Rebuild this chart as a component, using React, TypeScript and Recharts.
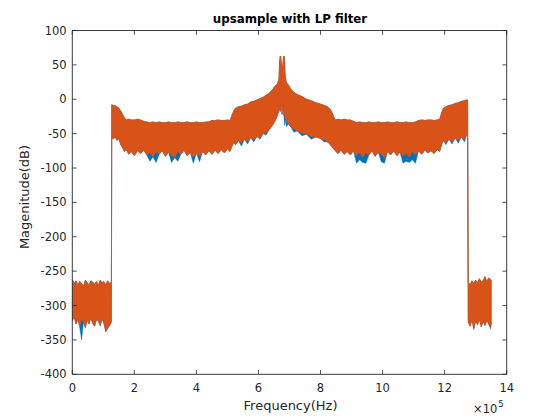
import React from 'react';
import { ComposedChart, Area, XAxis, YAxis } from 'recharts';

// Frequency in units of 1e5 Hz
const FREQ = [
  0, 0.06, 0.12, 0.18, 0.24, 0.3, 0.36, 0.42, 0.48, 0.54, 0.6, 0.66, 0.72, 0.78, 0.84, 0.9, 0.96, 1.02, 1.08, 1.14, 1.2, 1.26,
  1.27, 1.32, 1.38, 1.44, 1.5, 1.56, 1.62, 1.68, 1.74, 1.82, 1.9, 2.0, 2.1, 2.2, 2.3, 2.4, 2.5, 2.6, 2.7, 2.8, 2.9,
  3.0, 3.1, 3.2, 3.3, 3.4, 3.5, 3.6, 3.7, 3.8, 3.9, 4.0, 4.1, 4.2, 4.3, 4.4, 4.5, 4.6, 4.7, 4.8, 4.9, 5.0, 5.08,
  5.14, 5.2, 5.26, 5.35, 5.45, 5.55, 5.65, 5.75, 5.85, 5.95, 6.05, 6.15, 6.25, 6.35, 6.45, 6.55, 6.62, 6.66,
  6.68, 6.7, 6.72, 6.74, 6.76, 6.78, 6.8, 6.82, 6.84, 6.86, 6.9, 6.96, 7.04, 7.14, 7.25, 7.4, 7.55, 7.7, 7.85,
  8.0, 8.12, 8.22, 8.3, 8.36, 8.42, 8.48, 8.56, 8.66, 8.76, 8.86, 8.96, 9.06, 9.16, 9.26, 9.36, 9.46, 9.56,
  9.66, 9.76, 9.86, 9.96, 10.06, 10.16, 10.26, 10.36, 10.46, 10.56, 10.66, 10.76, 10.86, 10.96, 11.06, 11.16,
  11.26, 11.36, 11.46, 11.56, 11.66, 11.76, 11.84, 11.9, 11.96, 12.04, 12.14, 12.24, 12.34, 12.44, 12.54,
  12.64, 12.7, 12.74,
  12.76, 12.82, 12.88, 12.94, 13.0, 13.06, 13.12, 13.18, 13.24, 13.3, 13.36, 13.42, 13.48, 13.51,
];

const UPPER = [
  -262, -268, -264, -270, -265, -268, -272, -263, -267, -270, -264, -266, -269, -265, -271, -263, -267, -265, -270, -264, -268, -266,
  -8, -9, -9, -11, -13, -17, -22, -27, -30, -29, -30, -30, -29, -30, -32, -33, -34, -33, -34, -33, -34,
  -34, -33, -34, -34, -33, -34, -34, -33, -34, -34, -33, -34, -34, -33, -33, -31, -31, -30, -31, -31, -30, -31,
  -24, -17, -13, -11, -10, -8, -7, -4, -3, -1, 1, 3, 6, 9, 14, 20, 23, 30,
  55, 63, 62, 50, 45, 48, 58, 63, 60, 35, 24, 21, 15, 10, 7, 4, 0, -2, -5,
  -7, -9, -11, -14, -18, -25, -30, -29, -30, -29, -30, -30, -32, -34, -33, -34, -34, -33,
  -34, -34, -33, -34, -34, -33, -34, -34, -33, -34, -34, -33, -34, -34, -33, -31,
  -30, -31, -30, -30, -31, -30, -29, -20, -13, -11, -9, -8, -6, -5, -3,
  -2, -1, -1,
  -266, -270, -264, -268, -263, -267, -261, -266, -264, -258, -265, -260, -262, -265,
];

const LOWER_ORANGE = [
  -322, -317, -327, -320, -330, -319, -324, -331, -321, -327, -318, -325, -330, -320, -323, -328, -319, -326, -338, -333, -329, -324,
  -54, -58, -55, -60, -57, -66, -70, -76, -73, -80, -76, -82, -75, -79, -74, -81, -77, -84, -76, -80, -75,
  -83, -77, -81, -85, -76, -80, -74, -82, -77, -84, -78, -83, -76, -81, -75, -80, -74, -79, -73, -78, -72, -76,
  -69, -63, -66, -60, -63, -58, -61, -56, -59, -54, -56, -50, -48, -44, -38, -30, -22, -16,
  -12, -18, -10, -6, -22, -8, -14, -24, -16, -28, -30, -36, -40, -43, -46, -49, -51, -54, -55,
  -57, -59, -62, -65, -69, -72, -75, -79, -74, -80, -76, -81, -75, -82, -77, -84, -78, -81,
  -75, -83, -77, -80, -85, -76, -81, -75, -82, -77, -83, -78, -84, -76, -81, -75,
  -80, -74, -78, -75, -79, -73, -76, -66, -60, -63, -58, -62, -56, -60, -55,
  -58, -52, -55,
  -324, -330, -321, -333, -322, -328, -320, -331, -323, -329, -321, -327, -332, -324,
];

const LOWER_BLUE = [
  -322, -317, -327, -320, -332, -350, -324, -333, -321, -327, -318, -327, -330, -320, -323, -330, -319, -326, -338, -333, -329, -324,
  -54, -58, -55, -60, -57, -66, -70, -76, -73, -80, -76, -82, -75, -79, -74, -81, -90, -84, -92, -80, -75,
  -83, -77, -92, -85, -90, -80, -74, -82, -77, -93, -78, -91, -76, -81, -75, -80, -74, -79, -73, -78, -72, -76,
  -69, -63, -66, -60, -68, -58, -65, -56, -62, -54, -58, -50, -52, -44, -38, -30, -22, -16,
  -12, -18, -10, -6, -22, -8, -14, -24, -38, -28, -40, -36, -40, -48, -46, -53, -51, -58, -55,
  -57, -62, -62, -65, -69, -72, -75, -79, -74, -80, -76, -81, -75, -93, -88, -92, -93, -81,
  -75, -83, -77, -91, -93, -76, -81, -75, -82, -77, -93, -90, -92, -88, -93, -75,
  -80, -74, -78, -75, -79, -73, -76, -66, -60, -66, -58, -65, -56, -64, -55,
  -62, -52, -55,
  -324, -330, -321, -335, -322, -328, -320, -331, -323, -329, -321, -327, -334, -324,
];

const X_TICKS = [0, 2, 4, 6, 8, 10, 12, 14];
const Y_TICKS = [-400, -350, -300, -250, -200, -150, -100, -50, 0, 50, 100];

const rows = FREQ.map((f, i) => ({
  f,
  orange: [LOWER_ORANGE[i], UPPER[i]],
  blue: [LOWER_BLUE[i], UPPER[i]],
}));

const INK = '#262626';
const FONT = '"DejaVu Sans", sans-serif';
const TICK_LEN = 4.3;
const TICK_FS = 11.5;

const BottomTick = (p: any) => (
  <g>
    <line x1={p.x} x2={p.x} y1={p.y} y2={p.y - TICK_LEN} stroke={INK} strokeWidth={0.8} />
    <text x={p.x} y={p.y + 17.7} textAnchor="middle" fontSize={TICK_FS} fontFamily={FONT} fill={INK}>
      {p.payload.value}
    </text>
  </g>
);
const TopTick = (p: any) => (
  <line x1={p.x} x2={p.x} y1={p.y} y2={p.y + TICK_LEN} stroke={INK} strokeWidth={0.8} />
);
const LeftTick = (p: any) => (
  <g>
    <line x1={p.x} x2={p.x + TICK_LEN} y1={p.y} y2={p.y} stroke={INK} strokeWidth={0.8} />
    <text x={p.x - 5.6} y={p.y + 4} textAnchor="end" fontSize={TICK_FS} fontFamily={FONT} fill={INK}>
      {p.payload.value}
    </text>
  </g>
);
const RightTick = (p: any) => (
  <line x1={p.x} x2={p.x - TICK_LEN} y1={p.y} y2={p.y} stroke={INK} strokeWidth={0.8} />
);

export default function App() {
  const axisLine = { stroke: INK, strokeWidth: 0.9 };
  return (
    <div style={{ position: 'absolute', left: 0, top: 0, width: 560, height: 420, background: '#fff' }}>
      <ComposedChart
        width={560}
        height={420}
        data={rows}
        margin={{ top: 29.5, right: 52.3, bottom: 15.7, left: 12.3 }}
      >
        <XAxis
          dataKey="f"
          type="number"
          domain={[0, 14]}
          ticks={X_TICKS}
          interval={0}
          allowDataOverflow
          height={30}
          tickSize={0}
          tickMargin={0}
          axisLine={axisLine}
          tickLine={false}
          tick={<BottomTick />}
        />
        <XAxis
          xAxisId="top"
          dataKey="f"
          orientation="top"
          type="number"
          domain={[0, 14]}
          ticks={X_TICKS}
          interval={0}
          allowDataOverflow
          height={1}
          tickSize={0}
          tickMargin={0}
          axisLine={axisLine}
          tickLine={false}
          tick={<TopTick />}
        />
        <YAxis
          type="number"
          domain={[-400, 100]}
          ticks={Y_TICKS}
          interval={0}
          allowDataOverflow
          width={60}
          tickSize={0}
          tickMargin={0}
          axisLine={axisLine}
          tickLine={false}
          tick={<LeftTick />}
        />
        <YAxis
          yAxisId="right"
          orientation="right"
          type="number"
          domain={[-400, 100]}
          ticks={Y_TICKS}
          interval={0}
          allowDataOverflow
          width={1}
          tickSize={0}
          tickMargin={0}
          axisLine={axisLine}
          tickLine={false}
          tick={<RightTick />}
        />
        <Area
          xAxisId="top"
          yAxisId="right"
          dataKey="orange"
          type="linear"
          stroke="none"
          fill="none"
          isAnimationActive={false}
          dot={false}
          activeDot={false}
        />
        <Area
          dataKey="blue"
          type="linear"
          stroke="#0072BD"
          strokeWidth={0.5}
          fill="#0072BD"
          fillOpacity={1}
          isAnimationActive={false}
          dot={false}
          activeDot={false}
        />
        <Area
          dataKey="orange"
          type="linear"
          stroke="#D95319"
          strokeWidth={0.7}
          fill="#D95319"
          fillOpacity={1}
          isAnimationActive={false}
          dot={false}
          activeDot={false}
        />
      </ComposedChart>
      <svg width={560} height={420} style={{ position: 'absolute', left: 0, top: 0, pointerEvents: 'none' }}>
        <text x={290} y={23} textAnchor="middle" fontSize={11.8} fontWeight="bold" fontFamily={FONT} fill="#000">
          upsample with LP filter
        </text>
        <text x={290.5} y={410} textAnchor="middle" fontSize={13} fontFamily={FONT} fill={INK}>
          Frequency(Hz)
        </text>
        <text
          x={29}
          y={197}
          textAnchor="middle"
          fontSize={13}
          fontFamily={FONT}
          fill={INK}
          transform="rotate(-90, 29, 197)"
        >
          Magenitude(dB)
        </text>
        <text x={473} y={413} fontSize={11.5} fontFamily={FONT} fill={INK}>
          ×10
          <tspan dx={1} dy={-6} fontSize={8.5}>5</tspan>
        </text>
      </svg>
    </div>
  );
}
